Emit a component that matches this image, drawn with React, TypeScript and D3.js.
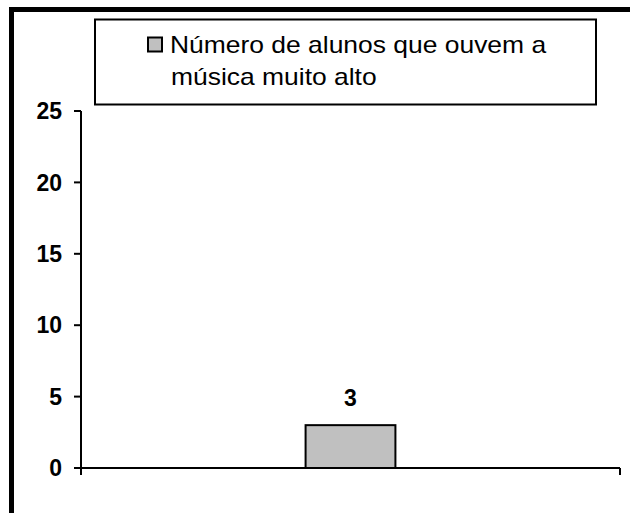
import React from 'react';
import * as d3 from 'd3';

const categories = ['alunos'];
const values = [3];
const yTicks = [0, 5, 10, 15, 20, 25];
const legendLines = ['Número de alunos que ouvem a', 'música muito alto'];

const W = 630;
const H = 513;
const margin = { top: 111, right: 10, bottom: 45, left: 81 };

export default function App() {
  const x = d3
    .scaleBand<string>()
    .domain(categories)
    .range([margin.left, W - margin.right])
    .padding(0);

  const y = d3
    .scaleLinear()
    .domain([0, 25])
    .range([H - margin.bottom, margin.top]);

  const barW = x.bandwidth() / 6;
  const x0 = x.range()[0];
  const x1 = x.range()[1];
  const y0 = y(0);

  // category boundary ticks
  const catTicks = [x0, ...categories.map(c => (x(c) as number) + x.bandwidth())];

  return (
    <div style={{ position: 'absolute', left: 0, top: 0 }}>
      <svg width={W} height={H} style={{ display: 'block', background: '#fff' }}>
        {/* outer frame (cut off at right and bottom) */}
        <path d={`M11.5,${H} V9.5 H${W}`} fill="none" stroke="#000" strokeWidth={5} />

        {/* legend */}
        <rect x={95} y={19.5} width={501} height={85} fill="#fff" stroke="#000" strokeWidth={2} />
        <rect x={148} y={37.5} width={14} height={14} fill="#c0c0c0" stroke="#000" strokeWidth={2} />
        {legendLines.map((t, i) => (
          <text
            key={i}
            transform={`translate(${170 + i},${53 + i * 32}) scale(1.15,1)`}
            fontFamily="'Liberation Sans', Arial, sans-serif"
            fontSize={23}
            fill="#000"
          >
            {t}
          </text>
        ))}

        {/* bars */}
        {values.map((v, i) => {
          const cx = (x(categories[i]) as number) + x.bandwidth() / 2;
          return (
            <g key={i}>
              <rect
                x={cx - barW / 2}
                y={y(v)}
                width={barW}
                height={y0 - y(v)}
                fill="#c0c0c0"
                stroke="#000"
                strokeWidth={2}
              />
              <text
                x={cx}
                y={y(v) - 19}
                textAnchor="middle"
                fontFamily="'Liberation Sans', Arial, sans-serif"
                fontWeight="bold"
                fontSize={23}
              >
                {v}
              </text>
            </g>
          );
        })}

        {/* y axis */}
        <line x1={x0} x2={x0} y1={y(25)} y2={y0 + 7} stroke="#000" strokeWidth={2} />
        {yTicks.map(t => (
          <g key={t}>
            <line x1={x0 - 7} x2={x0} y1={y(t)} y2={y(t)} stroke="#000" strokeWidth={2} />
            <text
              x={62}
              y={y(t)}
              dy="0.36em"
              textAnchor="end"
              fontFamily="'Liberation Sans', Arial, sans-serif"
              fontWeight="bold"
              fontSize={23}
            >
              {t}
            </text>
          </g>
        ))}

        {/* x axis */}
        <line x1={x0} x2={x1} y1={y0} y2={y0} stroke="#000" strokeWidth={2} />
        {catTicks.map((cx, i) => (
          <line key={i} x1={cx} x2={cx} y1={y0} y2={y0 + 7} stroke="#000" strokeWidth={2} />
        ))}
      </svg>
    </div>
  );
}
